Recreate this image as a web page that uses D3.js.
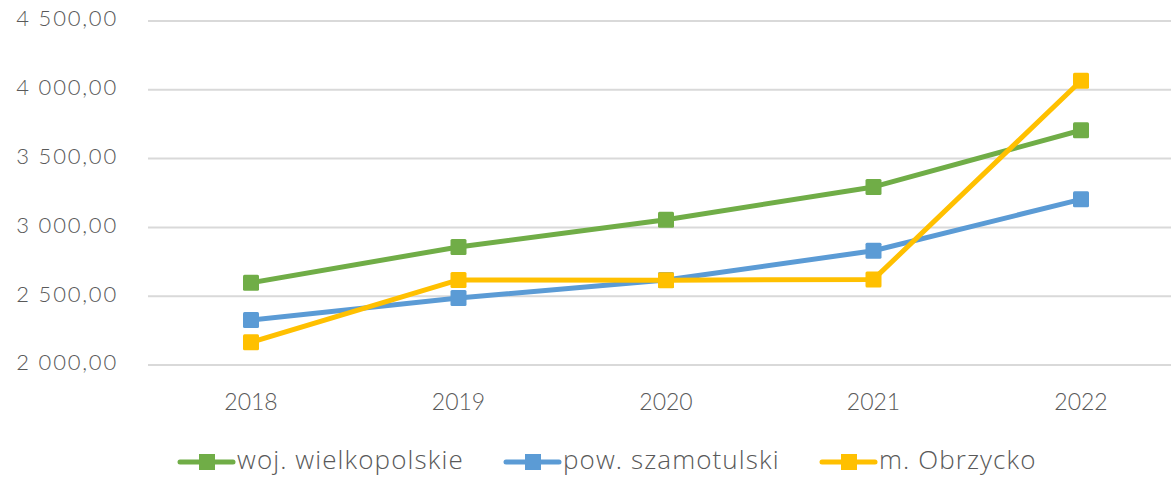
<!DOCTYPE html>
<html>
<head>
<meta charset="utf-8">
<script src="https://cdn.jsdelivr.net/npm/d3@7"></script>
<style>
  html, body { margin: 0; padding: 0; background: #fff; }
  svg { display: block; }
  text { font-family: "Lato", "Open Sans", sans-serif; font-weight: 300; fill: #595959; }
  .legend text { font-family: "Open Sans", "Lato", sans-serif; font-weight: 300; }
</style>
</head>
<body>
<svg id="chart"></svg>
<script>
const years = ["2018", "2019", "2020", "2021", "2022"];
const yTicks = [2000, 2500, 3000, 3500, 4000, 4500];
const wielkopolskie = [2598, 2858, 3056, 3294, 3706];
const szamotulski = [2327, 2487, 2618, 2830, 3204];
const obrzycko = [2165, 2618, 2616, 2622, 4066];

const series = [
  { name: "woj. wielkopolskie", color: "#70AD47", values: wielkopolskie },
  { name: "pow. szamotulski", color: "#5B9BD5", values: szamotulski },
  { name: "m. Obrzycko", color: "#FFC000", values: obrzycko },
];

const width = 1171, height = 477;
const svg = d3.select("#chart").attr("width", width).attr("height", height);

const x = d3.scalePoint().domain(years).range([251, 1081]);
const y = d3.scaleLinear().domain([2000, 4500]).range([365, 21]);

const fmt = (v) => d3.format(",.2f")(v).replace(/,/g, " ").replace(".", ",");

svg.append("g").selectAll("line")
  .data(yTicks)
  .join("line")
  .attr("x1", 148)
  .attr("x2", width)
  .attr("y1", (d) => y(d))
  .attr("y2", (d) => y(d))
  .attr("stroke", "#d9d9d9")
  .attr("stroke-width", 2);

svg.append("g").selectAll("text")
  .data(yTicks)
  .join("text")
  .attr("x", 118)
  .attr("y", (d) => y(d))
  .attr("text-anchor", "end")
  .attr("dominant-baseline", "middle")
  .attr("font-size", 22)
  .attr("letter-spacing", 1.8)
  .text(fmt);

svg.append("g").selectAll("text")
  .data(years)
  .join("text")
  .attr("x", (d) => x(d))
  .attr("y", 404)
  .attr("text-anchor", "middle")
  .attr("dominant-baseline", "middle")
  .attr("font-size", 23)
  .text((d) => d);

const line = d3.line()
  .x((d, i) => x(years[i]))
  .y((d) => y(d));

const lines = svg.append("g");
series.forEach((s) => {
  const g = lines.append("g");
  g.append("path")
    .attr("d", line(s.values))
    .attr("fill", "none")
    .attr("stroke", s.color)
    .attr("stroke-width", 5)
    .attr("stroke-linejoin", "round");
  g.selectAll("rect")
    .data(s.values)
    .join("rect")
    .attr("x", (d, i) => x(years[i]) - 8)
    .attr("y", (d) => y(d) - 8)
    .attr("width", 16)
    .attr("height", 16)
    .attr("rx", 1.5)
    .attr("fill", s.color);
});

const legendX = [180, 506, 822];
const legend = svg.append("g").attr("class", "legend");
series.forEach((s, i) => {
  const g = legend.append("g").attr("transform", `translate(${legendX[i]},462)`);
  g.append("line")
    .attr("x1", 0).attr("x2", 53)
    .attr("y1", 0).attr("y2", 0)
    .attr("stroke", s.color)
    .attr("stroke-width", 5)
    .attr("stroke-linecap", "round");
  g.append("rect")
    .attr("x", 19).attr("y", -8)
    .attr("width", 16).attr("height", 16)
    .attr("fill", s.color);
  g.append("text")
    .attr("x", 57)
    .attr("y", 0)
    .attr("dominant-baseline", "middle")
    .attr("font-size", 26)
    .attr("letter-spacing", 1.1)
    .text(s.name);
});
</script>
</body>
</html>
